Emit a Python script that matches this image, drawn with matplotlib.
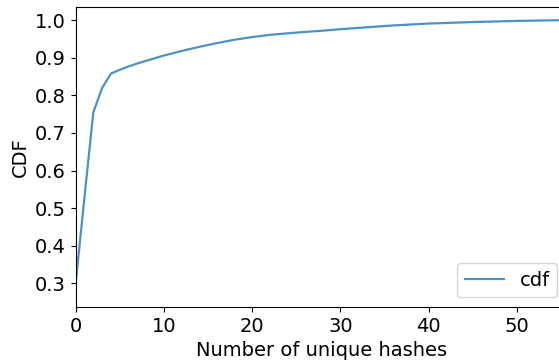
import matplotlib
matplotlib.use("Agg")
import matplotlib.pyplot as plt

# number of unique hashes vs cumulative fraction
n_hashes = [0, 1, 2, 3, 4, 5, 6, 7, 8, 10, 12, 14, 16, 18, 20, 22, 25, 28,
            30, 33, 36, 40, 45, 50, 55, 57]
cdf = [0.30, 0.53, 0.755, 0.82, 0.858, 0.868, 0.877, 0.885, 0.892, 0.906,
       0.918, 0.929, 0.939, 0.948, 0.955, 0.961, 0.967, 0.972, 0.976, 0.981,
       0.986, 0.991, 0.995, 0.998, 1.0, 1.0]

plt.rcParams['font.size'] = 14

fig = plt.figure(figsize=(5.59, 3.62), dpi=100)
ax = fig.add_axes([0.1354, 0.1519, 0.879, 0.8287])
ax.plot(n_hashes, cdf, label='cdf', linewidth=1.6, alpha=0.8)
ax.set_xlim(0, 55.7)
ax.set_ylim(0.237, 1.035)
ax.set_xticks([0, 10, 20, 30, 40, 50])
ax.set_yticks([0.3, 0.4, 0.5, 0.6, 0.7, 0.8, 0.9, 1.0])
ax.set_xlabel('Number of unique hashes')
ax.set_ylabel('CDF')
ax.legend(loc='lower right')

fig.savefig('out.png', dpi=100)
